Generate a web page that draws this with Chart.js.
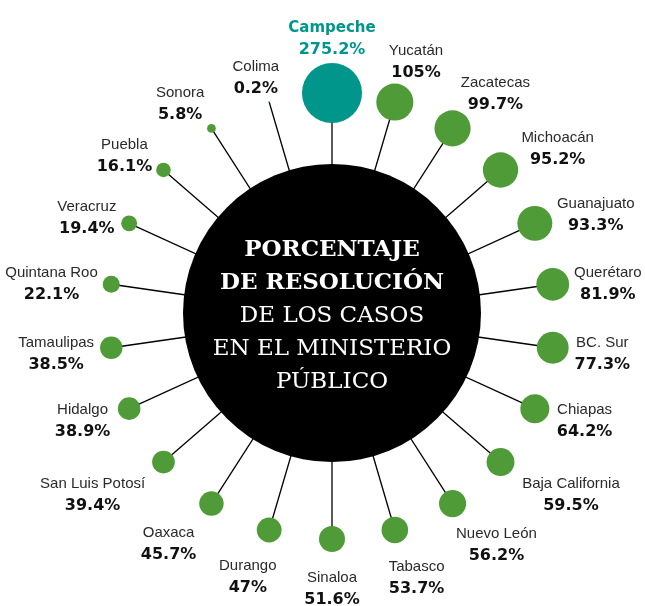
<!DOCTYPE html>
<html lang="es">
<head>
    <meta charset="UTF-8">
    <title>Porcentaje de resolución</title>
    <script src="https://cdn.jsdelivr.net/npm/chart.js"></script>
    <style>
        body {
            margin: 0;
            padding: 0;
            background-color: #ffffff;
            overflow: hidden;
        }

        .chart-container {
            width: 645px;
            height: 606px;
            position: relative;
        }
    </style>
</head>
<body>
    <div class="chart-container">
        <canvas id="ringChart"></canvas>
    </div>

    <script>
        // states, clockwise starting from the top
        const states = ['Campeche', 'Yucatán', 'Zacatecas', 'Michoacán', 'Guanajuato', 'Querétaro',
            'BC. Sur', 'Chiapas', 'Baja California', 'Nuevo León', 'Tabasco', 'Sinaloa', 'Durango',
            'Oaxaca', 'San Luis Potosí', 'Hidalgo', 'Tamaulipas', 'Quintana Roo', 'Veracruz',
            'Puebla', 'Sonora', 'Colima'];
        // percentage of cases resolved
        const resolved = [275.2, 105, 99.7, 95.2, 93.3, 81.9, 77.3, 64.2, 59.5, 56.2, 53.7, 51.6, 47,
            45.7, 39.4, 38.9, 38.5, 22.1, 19.4, 16.1, 5.8, 0.2];
        // every bubble sits on the outer ring
        const ring = states.map(() => 1);
        const centerTitle = ['PORCENTAJE', 'DE RESOLUCIÓN'];
        const centerSub = ['DE LOS CASOS', 'EN EL MINISTERIO', 'PÚBLICO'];

        const GREEN = '#4f9b37';
        const TEAL = '#00968b';
        const bubbleRadius = v => 1.81 * Math.sqrt(v); // area proportional

        // black disc with the title, under the bubbles
        const centerDisc = {
            id: 'centerDisc',
            beforeDatasetsDraw(chart) {
                const s = chart.scales.r;
                const ctx = chart.ctx;
                ctx.save();
                ctx.beginPath();
                ctx.arc(s.xCenter, s.yCenter - 3, 149, 0, Math.PI * 2);
                ctx.fillStyle = '#000';
                ctx.fill();
                ctx.fillStyle = '#fff';
                ctx.textAlign = 'center';
                ctx.textBaseline = 'middle';
                const lines = centerTitle.concat(centerSub);
                lines.forEach((txt, i) => {
                    ctx.font = i < centerTitle.length ? 'bold 23px "DejaVu Serif"' : '23px "DejaVu Serif"';
                    ctx.fillText(txt, s.xCenter, s.yCenter - 66 + i * 33);
                });
                ctx.restore();
            }
        };

        // name + value next to every bubble
        const bubbleLabels = {
            id: 'bubbleLabels',
            afterDatasetsDraw(chart) {
                const ctx = chart.ctx;
                const pts = chart.getDatasetMeta(0).data;
                ctx.save();
                ctx.textAlign = 'center';
                ctx.textBaseline = 'middle';
                pts.forEach((p, i) => {
                    const top = i === 0;
                    const nameFont = top ? 'bold 15px "DejaVu Sans"' : '15px "Liberation Sans"';
                    const valFont = 'bold 16px "DejaVu Sans"';
                    const valTxt = resolved[i] + '%';
                    ctx.font = nameFont;
                    const w1 = ctx.measureText(states[i]).width;
                    ctx.font = valFont;
                    const w2 = ctx.measureText(valTxt).width;
                    const w = Math.max(w1, w2), h = 44;
                    const theta = i / states.length * Math.PI * 2;
                    const phi = theta + (18 * Math.PI / 180) * Math.sin(2 * theta);
                    const dx = Math.sin(phi), dy = -Math.cos(phi);
                    const t = Math.min(Math.abs(dx) > 1e-6 ? (w / 2) / Math.abs(dx) : 1e9,
                                       Math.abs(dy) > 1e-6 ? (h / 2) / Math.abs(dy) : 1e9);
                    const gap = 5 + 7 * Math.max(0, -Math.cos(theta));
                    const d = bubbleRadius(resolved[i]) + gap + t;
                    const cx = p.x + dx * d, cy = p.y + dy * d + 3;
                    ctx.fillStyle = top ? TEAL : '#2a2a2a';
                    ctx.font = nameFont;
                    ctx.fillText(states[i], cx, cy - 11);
                    ctx.fillStyle = top ? TEAL : '#111';
                    ctx.font = valFont;
                    ctx.fillText(valTxt, cx, cy + 11);
                });
                ctx.restore();
            }
        };

        const ctx = document.getElementById('ringChart').getContext('2d');
        const ringChart = new Chart(ctx, {
            type: 'radar',
            data: {
                labels: states,
                datasets: [{
                    data: ring,
                    showLine: false,
                    fill: false,
                    borderWidth: 0,
                    pointRadius: c => bubbleRadius(resolved[c.dataIndex]),
                    pointHoverRadius: c => bubbleRadius(resolved[c.dataIndex]),
                    pointBackgroundColor: c => c.dataIndex === 0 ? TEAL : GREEN,
                    pointBorderWidth: 0
                }]
            },
            options: {
                responsive: true,
                maintainAspectRatio: false,
                animation: false,
                layout: {
                    padding: { left: 109, right: 90, top: 93, bottom: 67 }
                },
                scales: {
                    r: {
                        min: 0,
                        max: 1,
                        grid: { display: false },
                        angleLines: { display: true, color: '#000', lineWidth: 1.3 },
                        ticks: { display: false },
                        pointLabels: { display: false }
                    }
                },
                plugins: {
                    legend: { display: false },
                    tooltip: { enabled: false }
                }
            },
            plugins: [centerDisc, bubbleLabels]
        });
    </script>
</body>
</html>
